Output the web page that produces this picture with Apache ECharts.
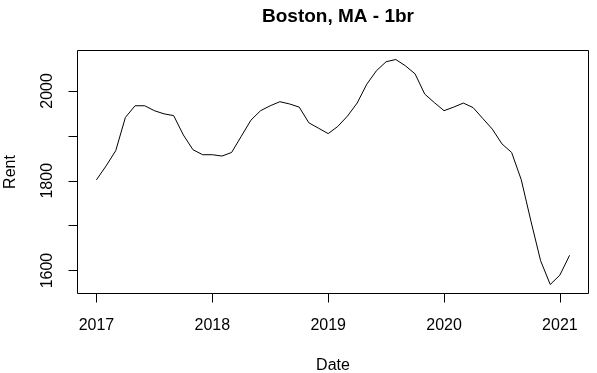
<!DOCTYPE html>
<html>
<head>
<meta charset="utf-8">
<script src="https://cdn.jsdelivr.net/npm/echarts@6/dist/echarts.min.js"></script>
<style>html,body{margin:0;padding:0;background:#fff;}#c{width:597px;height:373px;}</style>
</head>
<body>
<div id="c"></div>
<script>
var months = [
  "2017-01","2017-02","2017-03","2017-04","2017-05","2017-06","2017-07","2017-08","2017-09","2017-10","2017-11","2017-12",
  "2018-01","2018-02","2018-03","2018-04","2018-05","2018-06","2018-07","2018-08","2018-09","2018-10","2018-11","2018-12",
  "2019-01","2019-02","2019-03","2019-04","2019-05","2019-06","2019-07","2019-08","2019-09","2019-10","2019-11","2019-12",
  "2020-01","2020-02","2020-03","2020-04","2020-05","2020-06","2020-07","2020-08","2020-09","2020-10","2020-11","2020-12",
  "2021-01","2021-02"
];
var rent = [
  1802,1833,1867,1941,1967,1967,1956,1949,1945,1902,1869,1858,
  1858,1855,1863,1899,1935,1956,1967,1976,1971,1964,1929,1917,
  1905,1921,1944,1973,2015,2045,2065,2070,2056,2038,1993,1974,
  1956,1964,1973,1963,1939,1915,1882,1863,1802,1710,1622,1569,
  1590,1634
];
var xTicks = [2017, 2018, 2019, 2020, 2021];
var yTicks = [1600, 1700, 1800, 1900, 2000];
var yLabels = [1600, 1800, 2000];

function toYear(s) {
  var p = s.split("-");
  return parseInt(p[0], 10) + (parseInt(p[1], 10) - 1) / 12;
}
var pts = months.map(function (m, i) { return [toYear(m), rent[i]]; });
var xs = pts.map(function (p) { return p[0]; });
var xMin = Math.min.apply(null, xs), xMax = Math.max.apply(null, xs);
var yMin = Math.min.apply(null, rent), yMax = Math.max.apply(null, rent);
var xPad = (xMax - xMin) * 0.04, yPad = (yMax - yMin) * 0.04;

var font = "'Liberation Sans', Arial, Helvetica, sans-serif";
var chart = echarts.init(document.getElementById('c'), null, {renderer: 'canvas'});
chart.setOption({
  animation: false,
  backgroundColor: '#ffffff',
  title: {
    text: 'Boston, MA - 1br',
    left: 333, top: 2, textAlign: 'center',
    textStyle: {fontFamily: font, fontSize: 19, fontWeight: 'bold', color: '#000'}
  },
  grid: {
    left: 77.5, right: 8.5, top: 50.5, bottom: 79.5,
    containLabel: false, outerBoundsMode: 'none',
    show: true, borderColor: '#000', borderWidth: 1, backgroundColor: 'transparent'
  },
  xAxis: {
    type: 'value', min: xMin - xPad, max: xMax + xPad,
    name: 'Date', nameLocation: 'middle', nameGap: 64,
    nameTextStyle: {fontFamily: font, fontSize: 16, color: '#000'},
    axisLine: {show: false},
    splitLine: {show: false},
    axisTick: {show: true, inside: false, length: 9, customValues: xTicks, lineStyle: {color: '#000', width: 1}},
    axisLabel: {show: true, margin: 24, customValues: xTicks, fontFamily: font, fontSize: 16, color: '#000',
      formatter: function (v) { return String(Math.round(v)); }}
  },
  yAxis: {
    type: 'value', min: yMin - yPad, max: yMax + yPad,
    name: 'Rent', nameLocation: 'middle', nameGap: 59, nameRotate: 90,
    nameTextStyle: {fontFamily: font, fontSize: 16, color: '#000'},
    axisLine: {show: false},
    splitLine: {show: false},
    axisTick: {show: true, inside: false, length: 9, customValues: yTicks, lineStyle: {color: '#000', width: 1}},
    axisLabel: {show: true, margin: 22, rotate: 90, customValues: yLabels, fontFamily: font, fontSize: 16, color: '#000',
      formatter: function (v) { return String(Math.round(v)); }}
  },
  series: [{
    type: 'line', data: pts, showSymbol: false, symbol: 'none',
    lineStyle: {color: '#000', width: 1}, silent: true
  }]
});
</script>
</body>
</html>
